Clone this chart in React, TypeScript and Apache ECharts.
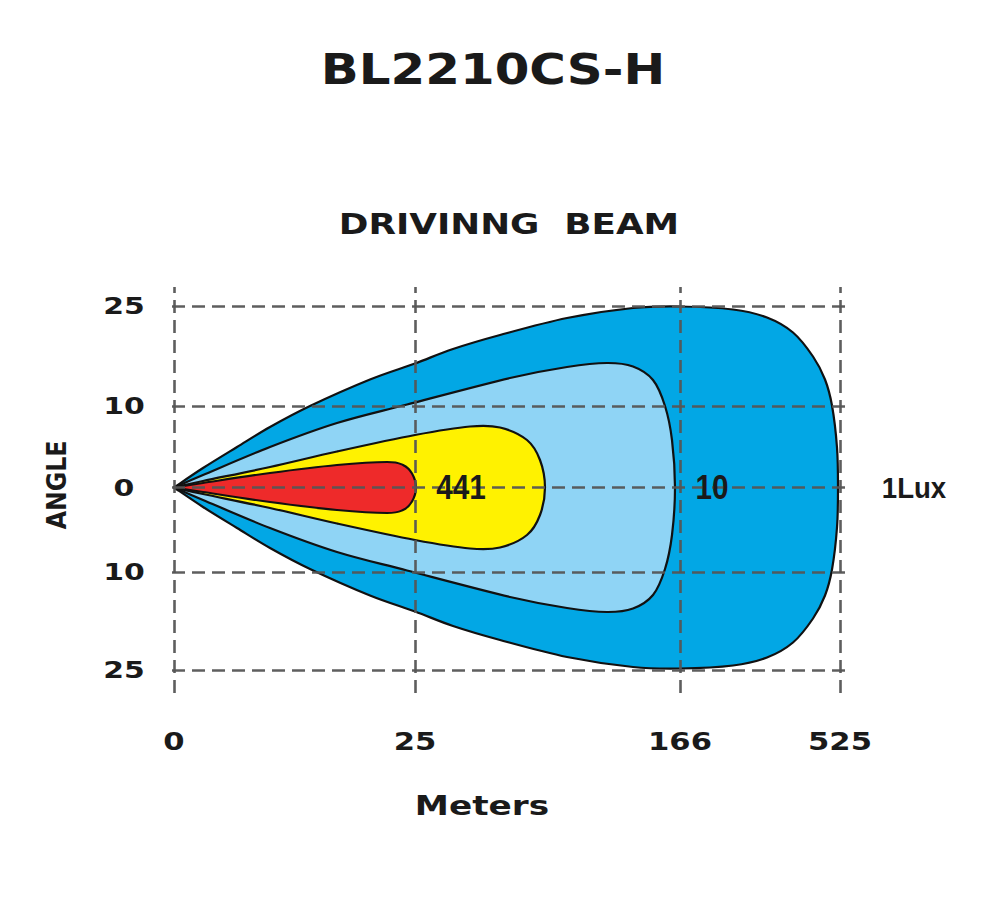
import React, { useEffect, useRef } from "react";
import * as echarts from "echarts";

// Axis ticks (positions in chart units along each axis) and their labels
const xTickPos = [0, 241, 506, 666];
const xTickLabels = ["0", "25", "166", "525"];
const yTickPos = [181.5, 81.5, 0, -84.5, -182.5];
const yTickLabels = ["25", "10", "0", "10", "25"];

// Beam contours, upper half from the lamp (0,0) to the axis crossing; mirrored for the lower half
const contour1Lux = [
  [0, 0], [29, 19.5], [63, 40.5], [96, 60.5], [136, 81.5], [196, 108], [241, 124],
  [279, 138.5], [326, 152.5], [393, 169.5], [459, 179.5], [506, 181], [559, 178],
  [593, 170], [619, 155], [639, 131], [651, 108], [658, 82], [663, 40], [664, 0],
];
const contour10Lux = [
  [0, 0], [29, 12.5], [96, 40.5], [163, 64.5], [233, 83], [336, 109.5], [393, 120.5],
  [433, 124.5], [459, 121], [479, 107.5], [491, 81.5], [498, 47.5], [501, 0],
];
const contourYellow = [
  [0, 0], [29, 6.5], [96, 20.5], [163, 36], [241, 52.5], [296, 61], [326, 60],
  [353, 47.5], [366, 27.5], [371, 0],
];
const contour441Lux = [
  [0, 0], [29, 4.5], [96, 14.5], [163, 22.5], [213, 25.5], [229, 22.5], [238, 14], [242, 0],
];
const contours = [contour1Lux, contour10Lux, contourYellow, contour441Lux];
const contourColors = ["#02a7e5", "#8fd4f5", "#fff200", "#ee2a2a"];

// Zone labels
const zoneLabels = ["441", "10"];
const zoneLabelX = [287, 538];
const edgeLabel = "1Lux";
const edgeLabelX = 740;

// Row/column where the tick labels sit (chart units)
const xLabelRowY = -253.5;
const yLabelColX = -50;

function buildPath(pts: number[][]): string {
  // Catmull-Rom -> cubic bezier, open curve (sharp corner at the lamp)
  const n = pts.length;
  let d = `M${pts[0][0]},${pts[0][1]}`;
  for (let i = 0; i < n - 1; i++) {
    const p0 = pts[Math.max(i - 1, 0)];
    const p1 = pts[i];
    const p2 = pts[i + 1];
    const p3 = pts[Math.min(i + 2, n - 1)];
    const c1x = p1[0] + (p2[0] - p0[0]) / 6;
    const c1y = p1[1] + (p2[1] - p0[1]) / 6;
    const c2x = p2[0] - (p3[0] - p1[0]) / 6;
    const c2y = p2[1] - (p3[1] - p1[1]) / 6;
    d += ` C${c1x},${c1y} ${c2x},${c2y} ${p2[0]},${p2[1]}`;
  }
  return d + " Z";
}

const FONT_WIDE = '"DejaVu Sans", sans-serif';
const FONT_NUM = '"Liberation Sans", Arial, sans-serif';

export default function App() {
  const ref = useRef<HTMLDivElement>(null);

  useEffect(() => {
    if (!ref.current) return;
    const chart = echarts.init(ref.current, null, { renderer: "svg" });

    const option: any = {
      animation: false,
      backgroundColor: "#ffffff",
      grid: { left: 172, right: 149, top: 287, bottom: 223 },
      xAxis: { type: "value", min: -2, max: 677, show: false },
      yAxis: { type: "value", min: -205.5, max: 200.5, show: false },
      graphic: [
        {
          type: "text",
          x: 493,
          y: 69,
          scaleX: 1.16,
          style: {
            text: "BL2210CS-H",
            fontFamily: FONT_WIDE,
            fontWeight: "bold",
            fontSize: 43,
            fill: "#1a1a1a",
            align: "center",
            verticalAlign: "middle",
          },
        },
        {
          type: "text",
          x: 509,
          y: 225,
          scaleX: 1.3,
          style: {
            text: "DRIVINNG  BEAM",
            fontFamily: FONT_WIDE,
            fontWeight: "bold",
            fontSize: 27.5,
            fill: "#1a1a1a",
            align: "center",
            verticalAlign: "middle",
          },
        },
        {
          type: "text",
          x: 482,
          y: 805,
          scaleX: 1.27,
          style: {
            text: "Meters",
            fontFamily: FONT_WIDE,
            fontWeight: "bold",
            fontSize: 27,
            fill: "#1a1a1a",
            align: "center",
            verticalAlign: "middle",
          },
        },
        {
          type: "text",
          x: 57,
          y: 485,
          rotation: Math.PI / 2,
          scaleX: 0.91,
          style: {
            text: "ANGLE",
            fontFamily: FONT_WIDE,
            fontWeight: "bold",
            fontSize: 26,
            fill: "#1a1a1a",
            align: "center",
            verticalAlign: "middle",
          },
        },
      ],
      series: [
        {
          type: "custom",
          name: "beam",
          z: 2,
          data: contours.map((_, i) => [i]),
          renderItem: (params: any, api: any) => {
            const c = contours[params.dataIndex];
            const full = c.concat(
              c.slice(0, c.length - 1).reverse().map((p) => [p[0], -p[1]])
            );
            const px = full.map((p) => api.coord(p));
            return {
              type: "path",
              shape: { pathData: buildPath(px) },
              style: {
                fill: contourColors[params.dataIndex],
                stroke: "#111111",
                lineWidth: 2.2,
                lineJoin: "round",
              },
            };
          },
        },
        {
          type: "line",
          name: "grid",
          z: 3,
          data: [],
          markLine: {
            silent: true,
            symbol: "none",
            label: { show: false },
            lineStyle: { color: "#555555", width: 2.6, type: [13, 7], opacity: 0.95 },
            data: [
              ...xTickPos.map((v) => ({ xAxis: v })),
              ...yTickPos.map((v) => ({ yAxis: v })),
            ],
          },
        },
        {
          type: "custom",
          name: "xTicks",
          z: 4,
          data: xTickPos.map((v, i) => [v, xLabelRowY, i]),
          renderItem: (params: any, api: any) => {
            const p = api.coord([xTickPos[params.dataIndex], xLabelRowY]);
            return {
              type: "text",
              x: p[0],
              y: p[1],
              scaleX: 1.2,
              style: {
                text: xTickLabels[params.dataIndex],
                fontFamily: FONT_WIDE,
                fontWeight: "bold",
                fontSize: 25.5,
                fill: "#1a1a1a",
                align: "center",
                verticalAlign: "middle",
              },
            };
          },
        },
        {
          type: "custom",
          name: "yTicks",
          z: 4,
          data: yTickPos.map((v, i) => [yLabelColX, v, i]),
          renderItem: (params: any, api: any) => {
            const p = api.coord([yLabelColX, yTickPos[params.dataIndex]]);
            return {
              type: "text",
              x: p[0],
              y: p[1],
              scaleX: 1.27,
              style: {
                text: yTickLabels[params.dataIndex],
                fontFamily: FONT_WIDE,
                fontWeight: "bold",
                fontSize: 23.5,
                fill: "#1a1a1a",
                align: "center",
                verticalAlign: "middle",
              },
            };
          },
        },
        {
          type: "custom",
          name: "zoneLabels",
          z: 5,
          data: zoneLabelX.map((v, i) => [v, 0, i]),
          renderItem: (params: any, api: any) => {
            const p = api.coord([zoneLabelX[params.dataIndex], 0]);
            return {
              type: "text",
              x: p[0],
              y: p[1],
              scaleX: 0.85,
              style: {
                text: zoneLabels[params.dataIndex],
                fontFamily: FONT_NUM,
                fontWeight: "bold",
                fontSize: 35,
                fill: "#1a1a1a",
                align: "center",
                verticalAlign: "middle",
              },
            };
          },
        },
        {
          type: "custom",
          name: "edgeLabel",
          z: 5,
          data: [[edgeLabelX, 0]],
          renderItem: (params: any, api: any) => {
            const p = api.coord([edgeLabelX, 0]);
            return {
              type: "text",
              x: p[0],
              y: p[1],
              scaleX: 0.92,
              style: {
                text: edgeLabel,
                fontFamily: FONT_NUM,
                fontWeight: "bold",
                fontSize: 30,
                fill: "#1a1a1a",
                align: "center",
                verticalAlign: "middle",
              },
            };
          },
        },
      ],
    };

    chart.setOption(option);
    return () => chart.dispose();
  }, []);

  return (
    <div
      ref={ref}
      style={{ position: "absolute", left: 0, top: 0, width: 1000, height: 916, background: "#fff" }}
    />
  );
}
